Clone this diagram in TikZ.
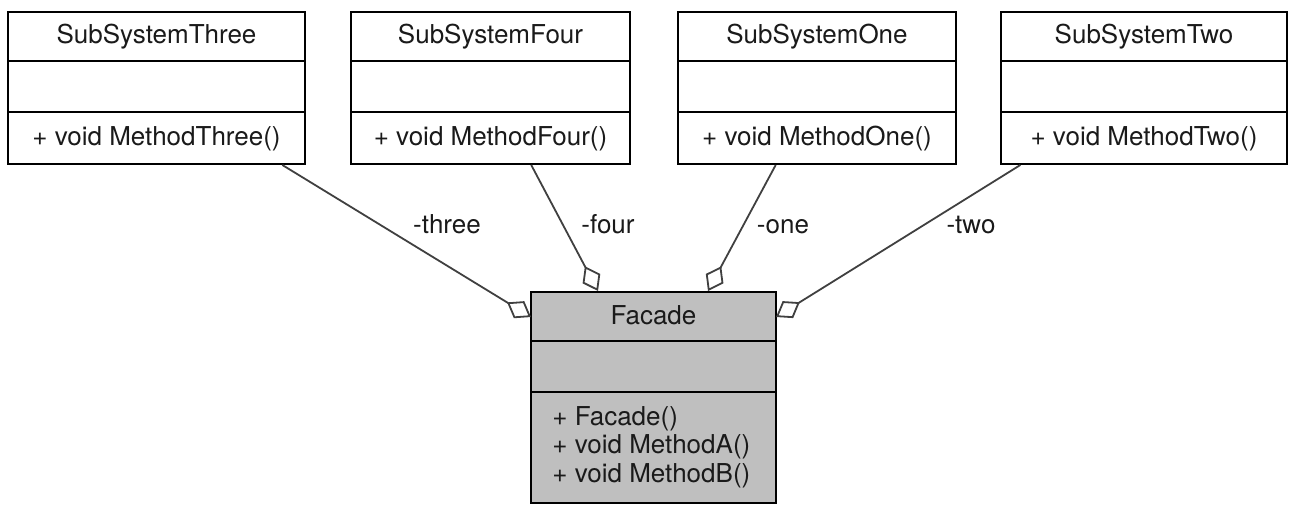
\documentclass[tikz,border=0pt]{standalone}
\usepackage{fontspec}
\setmainfont{TeX Gyre Heros}
\usetikzlibrary{arrows.meta,calc}
\definecolor{facgray}{HTML}{BFBFBF}
\definecolor{linegray}{HTML}{404040}
\definecolor{txtcol}{HTML}{1A1A1A}
\begin{document}
\begin{tikzpicture}[x=0.5pt,y=-0.5pt,
  cls/.style={draw=black, line width=1pt, fill=white, inner sep=0pt},
  txt/.style={font=\fontsize{13pt}{15.6pt}\selectfont, text=txtcol, inner sep=0pt, anchor=base},
  sep/.style={draw=black, line width=1pt},
  agg/.style={draw=linegray, line width=0.9pt, {Diamond[open,fill=white,length=14pt,width=10pt]}-}]
\useasboundingbox (0,0) rectangle (1296,524);
% classes
\node[cls, minimum width=148.5pt, minimum height=76pt] (three) at (156.5,88) {};
\node[cls, minimum width=139.5pt, minimum height=76pt] (four) at (490.5,88) {};
\node[cls, minimum width=139pt, minimum height=76pt] (one) at (817,88) {};
\node[cls, minimum width=143pt, minimum height=76pt] (two) at (1144,88) {};
\node[cls, fill=facgray, minimum width=122.5pt, minimum height=105.5pt] (facade) at (653.5,397.5) {};
% separators
\foreach \n in {three,four,one,two}{
  \draw[sep] ($(\n.north west)+(0,50)$) -- ($(\n.north east)+(0,50)$);
  \draw[sep] ($(\n.north west)+(0,101)$) -- ($(\n.north east)+(0,101)$);
}
\draw[sep] ($(facade.north west)+(0,50)$) -- ($(facade.north east)+(0,50)$);
\draw[sep] ($(facade.north west)+(0,101)$) -- ($(facade.north east)+(0,101)$);
% texts
\node[txt] (threeN) at (156.5,44) {SubSystemThree};
\node[txt] (threeM) at (156.5,146) {+ void MethodThree()};
\node[txt] (fourN) at (490.5,44) {SubSystemFour};
\node[txt] (fourM) at (490.5,146) {+ void MethodFour()};
\node[txt] (oneN) at (817,44) {SubSystemOne};
\node[txt] (oneM) at (817,146) {+ void MethodOne()};
\node[txt] (twoN) at (1144,44) {SubSystemTwo};
\node[txt] (twoM) at (1144,146) {+ void MethodTwo()};
\node[txt] (facN) at (653.5,324) {Facade};
\node[txt, anchor=base west] (facM1) at (552,425) {+ Facade()};
\node[txt, anchor=base west] (facM2) at (552,453.5) {+ void MethodA()};
\node[txt, anchor=base west] (facM3) at (552,482) {+ void MethodB()};
% aggregation ends on facade
\coordinate (tThree) at (531,317);
\coordinate (tFour) at (598,291);
\coordinate (tOne) at (708,291);
\coordinate (tTwo) at (776,317);
\draw[agg] (tThree) -- (three);
\draw[agg] (tFour) -- (four);
\draw[agg] (tOne) -- (one);
\draw[agg] (tTwo) -- (two);
% labels
\node[txt] (lThree) at (447,233) {-three};
\node[txt] (lFour) at (608,233) {-four};
\node[txt] (lOne) at (783,233) {-one};
\node[txt] (lTwo) at (971,233) {-two};
\end{tikzpicture}
\end{document}
